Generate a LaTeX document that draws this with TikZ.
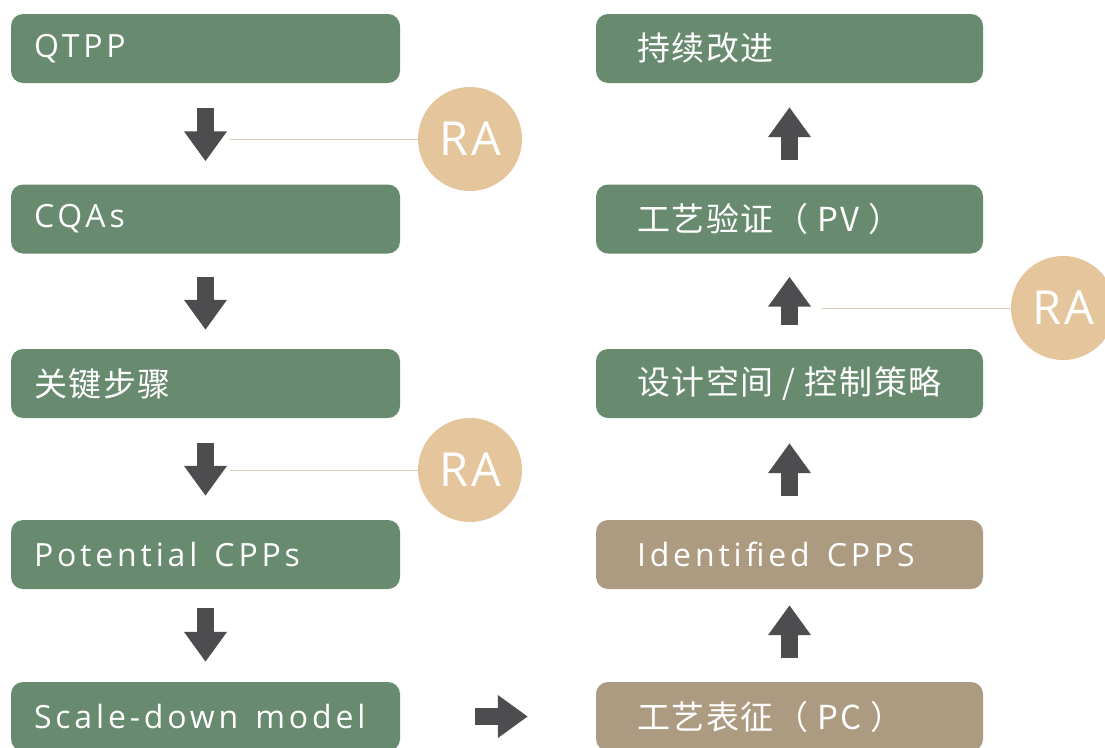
\documentclass[tikz,border=0pt]{standalone}
\usepackage{fontspec}
\setmainfont{Open Sans}[LetterSpace=12]
\newfontfamily\cjk{Noto Sans CJK SC}[LetterSpace=5]
\newfontfamily\rafont{Open Sans}[LetterSpace=6]
\usepackage{xcolor}
\definecolor{StepGreen}{HTML}{688A6F}
\definecolor{StepTan}{HTML}{AD9B81}
\definecolor{RaTan}{HTML}{E4C59C}
\definecolor{ArrowGrey}{HTML}{4D4D4F}
\definecolor{LinkLine}{HTML}{DCCDBA}
\usepackage{tikz}
\usetikzlibrary{arrows.meta,positioning}

\begin{document}
\begin{tikzpicture}[x=1pt,y=-1pt,every node/.style={font=\fontsize{32}{36}\selectfont, text=white},
  stepbox/.style={fill=StepGreen, rounded corners=12pt, minimum height=69pt, inner ysep=0pt, align=left, execute at begin node={\spaceskip=17pt\relax}},
  leftbox/.style={stepbox, inner xsep=23pt, text width=343pt},
  rightbox/.style={stepbox, inner xsep=24pt, text width=339pt, execute at begin node=\hspace*{17pt}},
  cjkbox/.style={font=\cjk\fontsize{33}{36}\selectfont, execute at begin node={\spaceskip=9pt\relax}},
  flow/.style={-{Triangle[width=41pt,length=30pt]}, line width=17pt, draw=ArrowGrey},
  ra/.style={circle, fill=RaTan, minimum size=104pt, inner sep=0pt, font=\rafont\fontsize{47}{50}\selectfont},
  raline/.style={draw=LinkLine, line width=0.8pt}]
  \useasboundingbox (0,0) rectangle (1105,747);
  % left column
  \foreach \n/\y/\t in {qtpp/48.5/QTPP, cqas/219/CQAs, keystep/383.5/{\cjk\fontsize{33}{36}\selectfont 关键步骤}, pcpp/554.5/Potential CPPs, sdm/716.5/Scale-down model}{\node[leftbox] (\n) at (205.5,\y) {\t};}
  % right column
  \foreach \n/\y/\t in {ci/48.5/持续改进, pv/219/工艺验证（ PV ）, ds/383.5/{设计空间 / 控制策略}}{\node[rightbox, cjkbox] (\n) at (789.5,\y) {\t};}
  \node[rightbox, fill=StepTan] (icpp) at (789.5,554.5) {Identified CPPS};
  \node[rightbox, cjkbox, fill=StepTan] (pc) at (789.5,716.5) {工艺表征（ PC ）};
  % arrows
  \foreach \a/\b/\s/\e in {qtpp/cqas/25/23, cqas/keystep/23/19, keystep/pcpp/25/24, pcpp/sdm/19/20, pv/ci/24/24, ds/pv/24/23, icpp/ds/24/25, pc/icpp/24/16}{\draw[flow, shorten <=\s pt, shorten >=\e pt] (\a) -- (\b);}
  \draw[flow, shorten <=75pt, shorten >=68pt] (sdm) -- (pc);
  % risk assessment
  \node[ra] (ra1) at (470,139) {RA};
  \node[ra] (ra2) at (470,470) {RA};
  \node[ra] (ra3) at (1063,308) {RA};
  \coordinate (l1) at (230,139);
  \coordinate (l2) at (230,470);
  \coordinate (l3) at (822,308);
  \foreach \c/\r in {l1/ra1, l2/ra2, l3/ra3}{\draw[raline] (\c) -- (\r);}
\end{tikzpicture}
\end{document}
